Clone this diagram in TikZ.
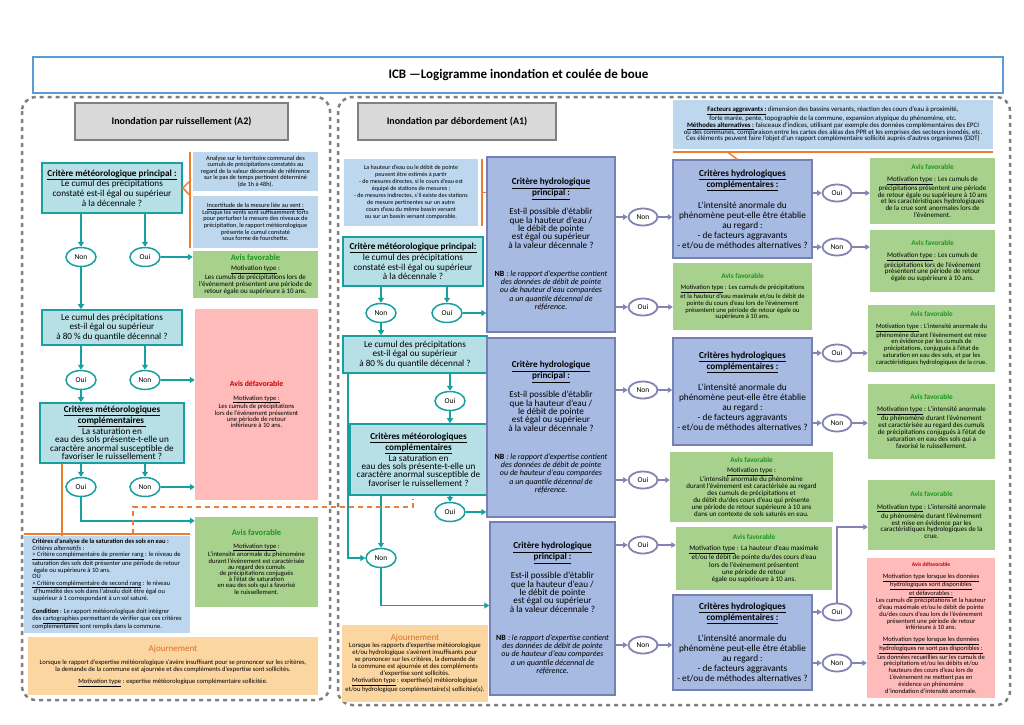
\documentclass[tikz,border=0pt]{standalone}
\usepackage{fontspec}
\setmainfont{Carlito}
\usetikzlibrary{shapes.geometric,arrows.meta,calc}
\definecolor{tealB}{RGB}{24,160,160}
\definecolor{tealF}{RGB}{183,223,230}
\definecolor{noteF}{RGB}{189,215,238}
\definecolor{hydF}{RGB}{166,186,226}
\definecolor{hydB}{RGB}{118,128,182}
\definecolor{grnF}{RGB}{169,209,142}
\definecolor{grnT}{RGB}{30,150,30}
\definecolor{redF}{RGB}{255,186,186}
\definecolor{redT}{RGB}{200,0,0}
\definecolor{ornF}{RGB}{252,214,160}
\definecolor{ornT}{RGB}{214,112,40}
\definecolor{ornL}{RGB}{237,125,49}
\definecolor{grayF}{RGB}{217,217,217}
\definecolor{grayB}{RGB}{128,128,128}
\definecolor{titleB}{RGB}{91,155,213}
\definecolor{purp}{RGB}{132,132,178}
\newcommand\bx[7]{%
 \pgfmathsetmacro\BW{#5-#3}%
 \pgfmathsetmacro\BH{#6-#4}%
 \node[#2,minimum width=\BW pt,minimum height=\BH pt] (#1) at ({(#3+#5)/2},{(#4+#6)/2}) {#7};}
\newcommand\AvF[1]{{\fontsize{#1}{#1}\selectfont\bfseries\color{grnT}Avis favorable}}
\newcommand\AvD[1]{{\fontsize{#1}{#1}\selectfont\bfseries\color{redT}Avis défavorable}}
\newcommand\Ajr{{\fontsize{9}{9}\selectfont\color{ornT}Ajournement}}
\newcommand\nbf{\fontsize{8}{8}\selectfont\itshape}
\tikzset{
 bxbase/.style={align=center, inner sep=1pt},
 tealbox/.style={bxbase, draw=tealB, fill=tealF, line width=1.6pt, font=\fontsize{9.2}{9.7}\selectfont},
 hdr/.style={bxbase, draw=grayB, fill=grayF, line width=1.6pt, font=\bfseries\fontsize{10}{11}\selectfont},
 nbox/.style={bxbase, fill=noteF, font=\fontsize{6.3}{6.6}\selectfont},
 gbox/.style={bxbase, fill=grnF, font=\fontsize{7}{6.9}\selectfont},
 rbox/.style={bxbase, fill=redF, font=\fontsize{6.6}{6.2}\selectfont},
 ajour/.style={bxbase, fill=ornF, font=\fontsize{6.6}{7.6}\selectfont},
 hydbox/.style={bxbase, draw=hydB, fill=hydF, line width=1.5pt, font=\fontsize{9.2}{8.3}\selectfont},
 compbox/.style={bxbase, draw=hydB, fill=hydF, line width=1.5pt, font=\fontsize{9.3}{10}\selectfont},
 tovl/.style={ellipse, draw=tealB, fill=white, line width=1.5pt, minimum width=30pt, minimum height=19pt, inner sep=0pt, font=\fontsize{7.5}{8}\selectfont},
 povl/.style={ellipse, draw=purp, fill=white, line width=1.8pt, minimum width=29pt, minimum height=17pt, inner sep=0pt, font=\fontsize{7.5}{8}\selectfont},
 tarr/.style={draw=tealB, line width=1.5pt, -{Triangle[length=5pt,width=6pt]}},
 parr/.style={draw=purp, line width=1.6pt, -{Triangle[length=4.5pt,width=5.5pt]}},
 oline/.style={draw=ornL, line width=1.5pt},
 odash/.style={draw=ornL, line width=2pt, dash pattern=on 5pt off 4pt},
 region/.style={draw=grayB, line width=2.5pt, dash pattern=on 4pt off 4pt, rounded corners=14pt},
}
\begin{document}
\begin{tikzpicture}[x=1pt,y=-1pt]
\useasboundingbox[fill=white] (0,0) rectangle (1024,724);
% title
\node[draw=titleB, line width=1.2pt, minimum width=970pt, minimum height=36pt] (tbox) at (518,75) {};
\node[anchor=west, font=\bfseries\fontsize{13}{15}\selectfont] (ttl) at (385,75) {ICB —Logigramme inondation et coulée de boue};
% regions
\draw[region] (22,97) rectangle (330,700);
\draw[region] (338,97) rectangle (1010,705);

% ===== LEFT (A2) =====
\bx{hL}{hdr}{75}{103}{288}{140}{Inondation par ruissellement (A2)}
\bx{tb1}{tealbox}{42}{163}{182}{213}{\underline{\textbf{Critère météorologique principal :}}\\Le cumul des précipitations\\constaté est-il égal ou supérieur\\à la décennale ?}
\bx{nL1}{nbox}{193}{152}{318}{191}{Analyse sur le territoire communal des\\cumuls de précipitations constatés au\\regard de la valeur décennale de référence\\sur le pas de temps pertinent déterminé\\(de 1h à 48h).}
\bx{nL2}{nbox}{193}{196}{318}{248}{\underline{Incertitude de la mesure liée au vent :}\\Lorsque les vents sont suffisamment forts\\pour perturber la mesure des niveaux de\\précipitation, le rapport météorologique\\présente le cumul constaté\\sous forme de fourchette.}
\bx{gL1}{gbox}{193}{251}{318}{298}{\AvF{8.5}\\[4pt]\underline{Motivation type} :\\Les cumuls de précipitations lors de\\l'événement présentent une période de\\retour égale ou supérieure à 10 ans.}
\node[tovl] (n1) at (81,257) {Non};
\node[tovl] (o1) at (145,257) {Oui};
\bx{tb2}{tealbox}{42}{310}{182}{345}{Le cumul des précipitations\\est-il égal ou supérieur\\à 80 \% du quantile décennal ?}
\node[tovl] (o2) at (81,380) {Oui};
\node[tovl] (n2) at (145,380) {Non};
\bx{rL}{rbox}{195}{309}{318}{500}{\AvD{7.8}\\[7pt]\underline{Motivation type :}\\Les cumuls de précipitations\\lors de l'événement présentent\\une période de retour\\inférieure à 10 ans.}
\bx{tb3}{tealbox,font=\fontsize{9.2}{8.4}\selectfont}{40}{403}{184}{463}{\underline{\textbf{Critères météorologiques}}\\\underline{\textbf{complémentaires }}\\La saturation en\\eau des sols présente-t-elle un\\caractère anormal susceptible de\\favoriser le ruissellement ?}
\node[tovl] (o3) at (81,487) {Oui};
\node[tovl] (n3) at (145,487) {Non};
\bx{gL2}{gbox,font=\fontsize{6.6}{6.2}\selectfont}{195}{517}{318}{607}{\AvF{8.5}\\[6pt]\underline{Motivation type} :\\L'intensité anormale du phénomène\\durant l'événement est caractérisée\\au regard des cumuls\\de précipitations conjugués\\à l'état de saturation\\en eau des sols qui a favorisé\\le ruissellement.}
\bx{bL}{nbox,align=left,font=\fontsize{6.5}{6.5}\selectfont}{24}{536}{190}{633}{\textbf{Critères d'analyse de la saturation des sols en eau :}\\\textit{Critères alternatifs} :\\\underline{> Critère complémentaire de premier rang} : le niveau de\\saturation des sols doit présenter une période de retour\\\ égale ou supérieure à 10 ans.\\OU\\\underline{> Critère complémentaire de second rang} : le niveau\\\ d'humidité des sols dans l'absolu doit être égal ou\\supérieur à 1 correspondant à un sol saturé.\\[7pt]\textbf{Condition} : Le rapport météorologique doit intégrer\\des \underline{cartographies} permettant de vérifier que ces critères\\complémentaires sont remplis dans la commune.}
\bx{ajL}{ajour}{28}{637}{318}{695}{\Ajr\\[5pt]Lorsque le rapport d'expertise météorologique s'avère insuffisant pour se prononcer sur les critères,\\la demande de la commune est ajournée et des compléments d'expertise sont sollicités.\\[4pt]\underline{Motivation type} : expertise météorologique complémentaire sollicitée.}

\draw[tarr] (tb1.south -| n1) -- (n1.north);
\draw[tarr] (tb1.south -| o1) -- (o1.north);
\draw[tarr] (o1.east) -- (o1.east -| gL1.west);
\draw[tarr] (n1.south) -- (n1.south |- tb2.north);
\draw[tarr] (tb2.south -| o2) -- (o2.north);
\draw[tarr] (tb2.south -| n2) -- (n2.north);
\draw[tarr] (n2.east) -- (n2.east -| rL.west);
\draw[tarr] (o2.south) -- (o2.south |- tb3.north);
\draw[tarr] (tb3.south -| o3) -- (o3.north);
\draw[tarr] (tb3.south -| n3) -- (n3.north);
\draw[tarr] (n3.east) -- (n3.east -| rL.west);
\draw[tarr] (o3.south) |- ([yshift=-4pt]gL2.north west);
\draw[oline] ($(tb1.east)+(8,-8)$) -- (tb1.east) -- ($(tb1.east)+(8,8)$);
\draw[oline] ([xshift=-3pt]nL1.north west) -- ([xshift=-3pt]nL2.south west);
\draw[oline] ([xshift=23pt]tb3.south west) -- ([xshift=23pt]tb3.south west |- bL.north);
\draw[oline] ([yshift=2pt]bL.north west) -- ([yshift=2pt]bL.north east);

% ===== MIDDLE (A1) =====
\bx{hM}{hdr}{358}{103}{556}{140}{Inondation par débordement (A1)}
\bx{nM}{nbox,font=\fontsize{6.1}{7}\selectfont}{344}{159}{478}{226}{La hauteur d'eau ou le débit de pointe\\peuvent être estimés à partir\\- de mesures directes, si le cours d'eau est\\équipé de stations de mesures ;\\- de mesures indirectes, s'il existe des stations\\de mesure pertinentes sur un autre\\cours d'eau du même bassin versant\\ou sur un bassin versant comparable.}
\bx{mtb1}{tealbox}{343}{237}{483}{286}{\underline{\textbf{Critère météorologique principal:}}\\le cumul des précipitations\\constaté est-il égal ou supérieur\\à la décennale ?}
\node[tovl] (mn1) at (381,313) {Non};
\node[tovl] (mo1) at (447,313) {Oui};
\bx{mtb2}{tealbox}{343}{336}{487}{373}{Le cumul des précipitations\\est-il égal ou supérieur\\à 80 \% du quantile décennal ?}
\node[tovl] (mo2) at (450,401) {Oui};
\bx{mtb3}{tealbox,font=\fontsize{9.2}{8.4}\selectfont}{350}{424}{487}{495}{\underline{\textbf{Critères météorologiques}}\\\underline{\textbf{complémentaires}}\\La saturation en\\eau des sols présente-t-elle un\\caractère anormal susceptible de\\favoriser le ruissellement ?}
\node[tovl] (mo3) at (450,512) {Oui};
\node[tovl] (mn3) at (381,558) {Non};
\bx{ajM}{ajour,font=\fontsize{6.7}{7.1}\selectfont}{342}{625}{488}{702}{\Ajr\\Lorsque les rapports d'expertise météorologique\\et/ou hydrologique s'avèrent insuffisants pour\\se prononcer sur les critères, la demande de\\la commune est ajournée et des compléments\\d'expertise sont sollicités.\\\underline{Motivation type} : expertise(s) météorologique\\et/ou  hydrologique complémentaire(s) sollicitée(s).}

\bx{hy1}{hydbox}{487}{157}{615}{332}{\underline{\textbf{Critère hydrologique}}\\\underline{\textbf{principal :}}\\[8pt]Est-il possible d'établir\\que la hauteur d'eau /\\le débit de pointe\\est égal ou supérieur\\à la valeur décennale ?\\[20pt]{\fontsize{8}{8}\selectfont\textbf{NB}} {\nbf: le rapport d'expertise contient}\\{\nbf des  données de débit de pointe}\\{\nbf ou de hauteur d'eau comparées}\\{\nbf a un quantile décennal de}\\{\nbf référence.}}
\bx{hy2}{hydbox}{487}{338}{615}{517}{\underline{\textbf{Critère hydrologique}}\\\underline{\textbf{principal :}}\\[8pt]Est-il possible d'établir\\que la hauteur d'eau /\\le débit de pointe\\est égal ou supérieur\\à la valeur décennale ?\\[20pt]{\fontsize{8}{8}\selectfont\textbf{NB}} {\nbf: le rapport d'expertise contient}\\{\nbf des  données de débit de pointe}\\{\nbf ou de hauteur d'eau comparées}\\{\nbf a un quantile décennal de}\\{\nbf référence.}}
\bx{hy3}{hydbox}{490}{522}{615}{695}{\underline{\textbf{Critère hydrologique}}\\\underline{\textbf{principal :}}\\[8pt]Est-il possible d'établir\\que la hauteur d'eau /\\le débit de pointe\\est égal ou supérieur\\à la valeur décennale ?\\[20pt]{\fontsize{8}{8}\selectfont\textbf{NB}} {\nbf: le rapport d'expertise contient}\\{\nbf des  données de débit de pointe}\\{\nbf ou de hauteur d'eau comparées}\\{\nbf a un quantile décennal de}\\{\nbf référence.}}

\draw[oline] ([xshift=4pt]nM.north east) -- ([xshift=4pt]nM.south east);
\draw[oline] ([xshift=4pt]nM.east) -- (nM.east -| hy1.west);
\draw[tarr] (mtb1.south -| mn1) -- (mn1.north);
\draw[tarr] (mtb1.south -| mo1) -- (mo1.north);
\draw[tarr] (mo1.east) -- (mo1.east -| hy1.west);
\draw[tarr] (mn1.south) -- (mn1.south |- mtb2.north);
\draw[tarr] (mtb2.south -| mo2) -- (mo2.north);
\draw[tarr] (mo2.south) -- (mo2.south |- mtb3.north);
\draw[tarr] ([xshift=6pt]mtb2.south west) |- (mn3.west);
\draw[tarr] (mtb3.south -| mo3) -- (mo3.north);
\draw[tarr] (mo3.east) -- (mo3.east -| hy2.west);
\draw[tarr] (mtb3.south -| mn3) -- (mn3.north);
\draw[tarr] (mn3.south) |- ([yshift=3pt]hy3.west);
\draw[odash] ([xshift=109pt,yshift=2pt]bL.north west) -- ++(0,-27) -| ([xshift=64pt,yshift=-3pt]mtb3.south west);

% ===== RIGHT =====
\bx{nR}{nbox,font=\fontsize{6.8}{6.8}\selectfont}{673}{100}{993}{149}{\underline{\textbf{Facteurs aggravants :}} dimension des bassins versants, réaction des cours d'eau à proximité,\\forte marée, pente, topographie de la commune, expansion atypique du phénomène, etc.\\\underline{\textbf{Méthodes alternatives :}} faisceaux d'indices, utilisant par exemple des données complémentaires des EPCI\\ou des communes, comparaison entre les cartes des aléas des PPR et les emprises des secteurs inondés, etc.\\Ces éléments peuvent faire l'objet d'un rapport complémentaire sollicité auprès d'autres organismes (DDT)}
\bx{c1}{compbox}{673}{160}{812}{258}{\underline{\textbf{Critères hydrologiques}}\\\underline{\textbf{complémentaires :}}\\[10pt]L'intensité anormale du\\phénomène peut-elle être établie\\au regard :\\- de facteurs aggravants\\- et/ou de méthodes alternatives ?}
\bx{c2}{compbox}{673}{338}{812}{445}{\underline{\textbf{Critères hydrologiques}}\\\underline{\textbf{complémentaires :}}\\[10pt]L'intensité anormale du\\phénomène peut-elle être établie\\au regard :\\- de facteurs aggravants\\- et/ou de méthodes alternatives ?}
\bx{c3}{compbox}{673}{595}{812}{690}{\underline{\textbf{Critères hydrologiques}}\\\underline{\textbf{complémentaires :}}\\[10pt]L'intensité anormale du\\phénomène peut-elle être établie\\au regard :\\- de facteurs aggravants\\- et/ou de méthodes alternatives ?}
\bx{gM1}{gbox,font=\fontsize{6.6}{6.8}\selectfont}{673}{263}{812}{330}{\AvF{7.3}\\[5pt]\underline{Motivation type} : Les cumuls de précipitations\\et la hauteur d'eau maximale et/ou le débit de\\pointe du cours d'eau lors de l'événement\\présentent une période de retour égale ou\\supérieure à 10 ans.}
\bx{gM2}{gbox,font=\fontsize{7}{6.9}\selectfont}{670}{452}{833}{522}{\AvF{7.3}\\[3pt]\underline{Motivation type} :\\L'intensité anormale du phénomène\\durant l'évènement est caractérisée au regard\\des cumuls de précipitations et\\du débit du/des cours d'eau qui présente\\une période de retour supérieure à 10 ans\\dans un contexte de sols saturés en eau.}
\bx{gM3}{gbox,font=\fontsize{7.1}{7.2}\selectfont}{676}{527}{832}{590}{\AvF{7.3}\\[4pt]\underline{Motivation type} : La hauteur d'eau maximale\\et/ou le débit de pointe du/des cours d'eau\\lors de l'évènement présentent\\une période de retour\\égale ou supérieure à 10 ans.}
\bx{gR1}{gbox}{870}{158}{995}{224}{\AvF{7.3}\\[5pt]\underline{Motivation type} : Les cumuls de\\précipitations présentent une période\\de retour égale ou supérieure à 10 ans\\et les caractéristiques hydrologiques\\de la crue sont anormales  lors de\\l'évènement.}
\bx{gR2}{gbox}{870}{230}{995}{292}{\AvF{7.3}\\[6pt]\underline{Motivation type} : Les cumuls de\\précipitations lors de l'événement\\présentent une période de retour\\égale ou supérieure à 10 ans.}
\bx{gR3}{gbox,font=\fontsize{6.6}{6.8}\selectfont}{868}{305}{995}{372}{\AvF{7.3}\\[5pt]\underline{Motivation type} : L'intensité anormale du\\phénomène durant l'évènement est mise\\en évidence par les cumuls de\\précipitations, conjugués à l'état de\\saturation en eau des sols, et par les\\caractéristiques hydrologiques de la crue.}
\bx{gR4}{gbox}{868}{384}{995}{459}{\AvF{7.3}\\[5pt]\underline{Motivation type} : L'intensité anormale\\du phénomène durant l'évènement\\est caractérisée au regard des cumuls\\de précipitations conjugués à l'état de\\saturation en eau des sols qui a\\favorisé le ruissellement.}
\bx{gR5}{gbox}{868}{480}{995}{550}{\AvF{7.3}\\[6pt]\underline{Motivation type} :  L'intensité anormale\\du phénomène durant l'évènement\\est mise en évidence par les\\caractéristiques hydrologiques de la\\crue.}
\bx{rR}{rbox,font=\fontsize{6.5}{6.9}\selectfont}{867}{558}{995}{698}{\AvD{5.6}\\[5pt]\underline{Motivation type lorsque les données}\\\underline{hydrologiques sont disponibles}\\\underline{et défavorables :}\\Les cumuls de précipitations et la hauteur\\d'eau  maximale et/ou le débit de pointe\\du/des cours d'eau  lors de l'évènement\\présentent une période  de retour\\inférieure à 10 ans.\\[5pt]\underline{Motivation type lorsque les données}\\\underline{hydrologiques ne sont pas disponibles :}\\Les données recueillies sur les cumuls de\\précipitations et/ou les débits et/ou\\hauteurs des cours d'eau lors de\\L'évènement  ne mettent pas en\\évidence un phénomène\\d'inondation d'intensité anormale.}

\node[povl] (p1n) at (643,217) {Non};
\node[povl] (p1o) at (643,307) {Oui};
\node[povl] (p2n) at (643,390) {Non};
\node[povl] (p2o) at (643,480) {Oui};
\node[povl] (p3o) at (643,545) {Oui};
\node[povl] (p3n) at (643,645) {Non};
\node[povl] (q1o) at (837,193) {Oui};
\node[povl] (q1n) at (837,247) {Non};
\node[povl] (q2o) at (837,353) {Oui};
\node[povl] (q2n) at (837,423) {Non};
\node[povl] (q3o) at (837,612) {Oui};
\node[povl] (q3n) at (837,663) {Non};

\draw[oline] ([yshift=-3pt]nR.south west) -- ([yshift=-3pt]nR.south east);
\draw[oline] ([xshift=55pt,yshift=-3pt]nR.south west) -- ([xshift=65pt]c1.north west);

\draw[parr] (hy1.east |- p1n) -- (p1n.west);
\draw[parr] (p1n.east) -- (p1n.east -| c1.west);
\draw[parr] (hy1.east |- p1o) -- (p1o.west);
\draw[parr] (p1o.east) -- (p1o.east -| gM1.west);
\draw[parr] (hy2.east |- p2n) -- (p2n.west);
\draw[parr] (p2n.east) -- (p2n.east -| c2.west);
\draw[parr] (hy2.east |- p2o) -- (p2o.west);
\draw[parr] (p2o.east) -- (p2o.east -| gM2.west);
\draw[parr] (hy3.east |- p3o) -- (p3o.west);
\draw[parr] (p3o.east) -- (p3o.east -| gM3.west);
\draw[parr] (hy3.east |- p3n) -- (p3n.west);
\draw[parr] (p3n.east) -- (p3n.east -| c3.west);
\draw[parr] (c1.east |- q1o) -- (q1o.west);
\draw[parr] (q1o.east) -- (q1o.east -| gR1.west);
\draw[parr] (c1.east |- q1n) -- (q1n.west);
\draw[parr] (q1n.east) -- (q1n.east -| gR2.west);
\draw[parr] (c2.east |- q2o) -- (q2o.west);
\draw[parr] (q2o.east) -- (q2o.east -| gR3.west);
\draw[parr] (c2.east |- q2n) -- (q2n.west);
\draw[parr] (q2n.east) -- (q2n.east -| gR4.west);
\draw[parr] (c3.east |- q3o) -- (q3o.west);
\draw[parr] (q3o.north) |- ([yshift=-12pt]gR5.west);
\draw[parr] (c3.east |- q3n) -- (q3n.west);
\draw[parr] (q3n.east) -- (q3n.east -| rR.west);
\end{tikzpicture}
\end{document}
